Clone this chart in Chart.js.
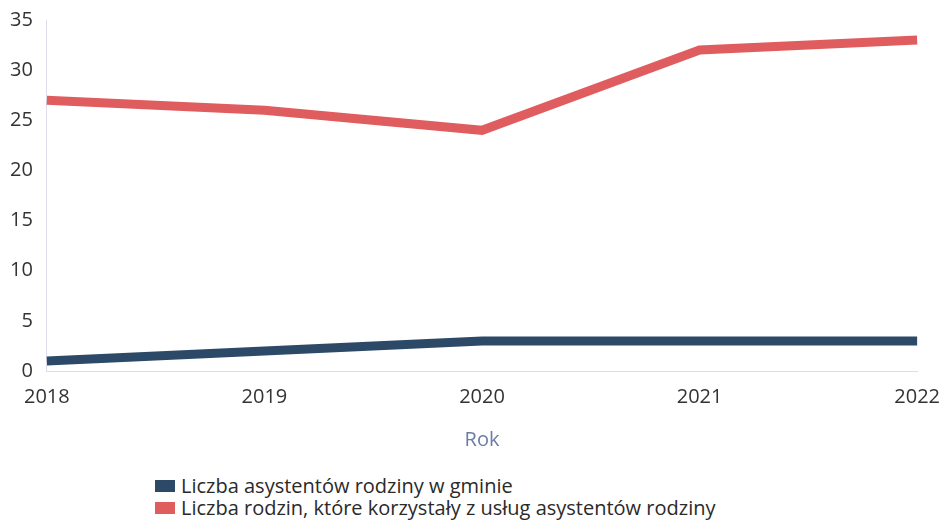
<!DOCTYPE html>
<html>
<head>
<meta charset="utf-8">
<script src="https://cdn.jsdelivr.net/npm/chart.js@4/dist/chart.umd.min.js"></script>
<style>
  body { margin: 0; background: #fff; font-family: "Open Sans", sans-serif; }
  #wrap { position: relative; width: 946px; height: 456px; }
  #legend { position: absolute; left: 155px; top: 475px; font-size: 20px; color: #2a2a2a; line-height: 22px; }
  #legend span.box { display: inline-block; width: 20px; height: 12px; margin-right: 6px; vertical-align: 1px; }
</style>
</head>
<body>
<div id="wrap"><canvas id="myChart" width="946" height="456"></canvas></div>
<div id="legend"></div>
<script>
const years = ['2018', '2019', '2020', '2021', '2022'];
const asystenci = [1, 2, 3, 3, 3];
const rodziny = [27, 26, 24, 32, 33];
const seriesNames = ['Liczba asystentów rodziny w gminie', 'Liczba rodzin, które korzystały z usług asystentów rodziny'];
const seriesColors = ['#2c4a68', '#e05d5f'];

const chart = new Chart(document.getElementById('myChart').getContext('2d'), {
  type: 'line',
  data: {
    labels: years,
    datasets: [
      { label: seriesNames[0], data: asystenci, borderColor: seriesColors[0], backgroundColor: seriesColors[0], borderWidth: 9, pointRadius: 0, tension: 0 },
      { label: seriesNames[1], data: rodziny, borderColor: seriesColors[1], backgroundColor: seriesColors[1], borderWidth: 9, pointRadius: 0, tension: 0 },
    ],
  },
  options: {
    responsive: false,
    animation: false,
    layout: { padding: { top: 20, left: 4, right: 4, bottom: 0 } },
    plugins: { legend: { display: false }, tooltip: { enabled: false } },
    scales: {
      x: {
        offset: false,
        grid: { display: false },
        border: { color: '#dcdcec' },
        ticks: { color: '#333', font: { family: 'Open Sans', size: 20 }, padding: 6, maxRotation: 0 },
        title: { display: true, text: 'Rok', color: '#6b7ca6', font: { family: 'Open Sans', size: 20 }, padding: { top: 13 } },
      },
      y: {
        min: 0, max: 35,
        grid: { display: false },
        border: { color: '#dcdcec' },
        ticks: { stepSize: 5, color: '#333', font: { family: 'Open Sans', size: 20 }, padding: 6 },
      },
    },
  },
});

// legenda jako tekst pod wykresem
const legend = document.getElementById('legend');
seriesNames.forEach((n, i) => {
  legend.innerHTML += '<div><span class="box" style="background:' + seriesColors[i] + '"></span>' + n + '</div>';
});
</script>
</body>
</html>
